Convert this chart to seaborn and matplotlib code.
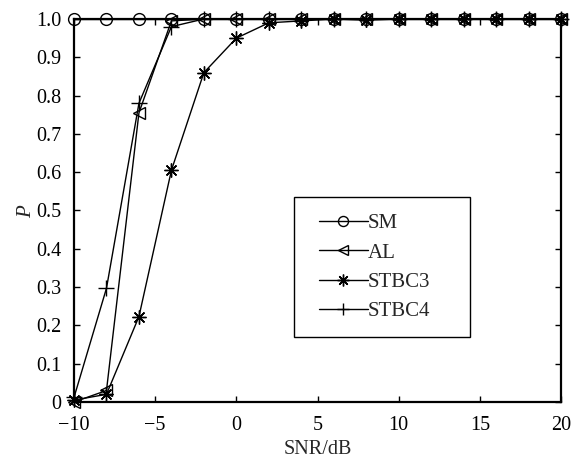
import numpy as np
import pandas as pd
import matplotlib
matplotlib.use("Agg")
import matplotlib.pyplot as plt
from matplotlib.patches import Rectangle
import seaborn as sns

# SNR sweep and detection probability per scheme
snr = [-10, -8, -6, -4, -2, 0, 2, 4, 6, 8, 10, 12, 14, 16, 18, 20]
p_sm = [1.0, 1.0, 1.0, 1.0, 1.0, 1.0, 1.0, 1.0, 1.0, 1.0, 1.0, 1.0, 1.0, 1.0, 1.0, 1.0]
p_al = [0.0, 0.03, 0.755, 0.995, 1.0, 1.0, 1.0, 1.0, 1.0, 1.0, 1.0, 1.0, 1.0, 1.0, 1.0, 1.0]
p_stbc3 = [0.005, 0.02, 0.223, 0.605, 0.86, 0.95, 0.99, 0.995, 1.0, 0.997, 1.0, 1.0, 1.0, 1.0, 1.0, 1.0]
p_stbc4 = [0.012, 0.297, 0.78, 0.98, 1.0, 1.0, 1.0, 1.0, 1.0, 1.0, 1.0, 1.0, 1.0, 1.0, 1.0, 1.0]

labels = ["SM", "AL", "STBC3", "STBC4"]
series = [p_sm, p_al, p_stbc3, p_stbc4]
# circle, left triangle, 8-spoke asterisk, plus
markers = ["o", "<", (8, 2, 0), "+"]
open_marker = [True, True, False, False]
marker_sizes = [8.5, 8.5, 10, 11]

xticks = [-10, -5, 0, 5, 10, 15, 20]
xticklabels = ["\u221210", "\u22125", "0", "5", "10", "15", "20"]
yticks = [0, 0.1, 0.2, 0.3, 0.4, 0.5, 0.6, 0.7, 0.8, 0.9, 1.0]
yticklabels = ["0", "0.1", "0.2", "0.3", "0.4", "0.5", "0.6", "0.7", "0.8", "0.9", "1.0"]

sns.set_theme(style="white")
plt.rcParams["font.family"] = ["Liberation Serif", "DejaVu Serif"]
plt.rcParams["mathtext.fontset"] = "custom"
plt.rcParams["mathtext.it"] = "Liberation Serif:italic"

fig = plt.figure(figsize=(5.72, 4.62), dpi=100)
ax = fig.add_axes([0.1294, 0.1299, 0.8514, 0.829])

for lab, mk, hollow, ms, vals in zip(labels, markers, open_marker, marker_sizes, series):
    df = pd.DataFrame({"SNR": snr, "P": vals})
    sns.lineplot(
        data=df, x="SNR", y="P", ax=ax, color="black", linewidth=1.0,
        marker=mk, markersize=ms,
        markerfacecolor="none" if hollow else "black",
        markeredgecolor="black", markeredgewidth=1.0,
        label=lab, clip_on=False,
    )

ax.set_xlim(-10, 20)
ax.set_ylim(0, 1.0)
ax.set_xticks(xticks)
ax.set_xticklabels(xticklabels)
ax.set_yticks(yticks)
ax.set_yticklabels(yticklabels)
ax.tick_params(direction="in", length=4, width=1, labelsize=14.5,
               top=True, right=True, bottom=True, left=True, colors="black")
ax.tick_params(axis="x", pad=10)
ax.tick_params(axis="y", pad=9)
for s in ax.spines.values():
    s.set_color("black")
    s.set_linewidth(1.6)

ax.set_xlabel("SNR/dB", fontsize=14.5, labelpad=4)
ax.set_ylabel("$P$", fontsize=15, labelpad=0)

# legend entries without frame; the box is drawn separately with wider side margins
leg = ax.legend(loc="upper left", bbox_to_anchor=(0.503, 0.492),
                fontsize=15, frameon=False,
                handlelength=2.35, handletextpad=0.0, labelspacing=0.47,
                borderpad=0, markerscale=0.85, borderaxespad=0)
ax.add_patch(Rectangle((0.452, 0.170), 0.361, 0.366, transform=ax.transAxes,
                       fill=False, edgecolor="black", linewidth=1.0, zorder=5))

fig.savefig("out.png", dpi=100, facecolor="white")
